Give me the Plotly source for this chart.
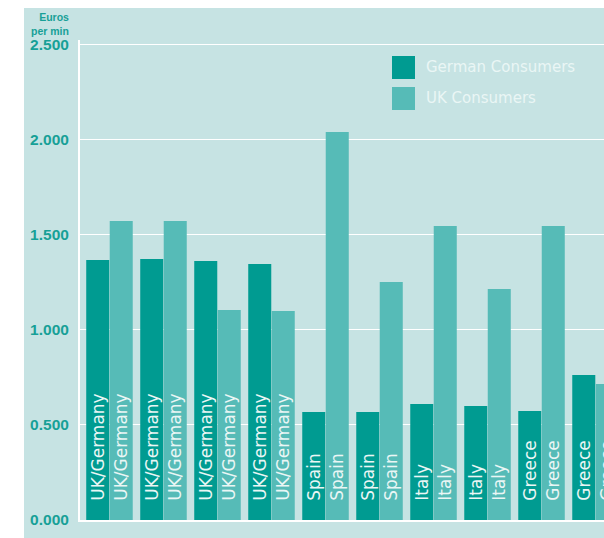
import plotly.graph_objects as go

# ---- data ----
categories = ["UK/Germany", "UK/Germany", "UK/Germany", "UK/Germany",
              "Spain", "Spain", "Italy", "Italy", "Greece", "Greece"]
german_consumers = [1.368, 1.374, 1.363, 1.347, 0.568, 0.568, 0.610, 0.600, 0.574, 0.763]
uk_consumers = [1.574, 1.574, 1.105, 1.100, 2.042, 1.253, 1.547, 1.216, 1.547, 0.716]
tick_values = [0, 0.5, 1.0, 1.5, 2.0, 2.5]
tick_labels = ["0.000", "0.500", "1.000", "1.500", "2.000", "2.500"]
series_names = ["German Consumers", "UK Consumers"]

# ---- style ----
W, H = 604, 538
ML, MR, MT, MB = 80, 0, 40, 18
BG = "#C6E3E3"
C_DE = "#009B91"
C_UK = "#56BBB7"
TICK_C = "#17A097"
LABEL_C = "#EAF6F5"

PW = W - ML - MR
PH = H - MT - MB


def px_x(p):
    return (p - ML) / PW


def px_y(p):
    return (H - MB - p) / PH


xs = list(range(len(categories)))
pad = "\u00a0\u00a0\u00a0"
texts = [pad + c for c in categories]

fig = go.Figure()
for name, vals, col in [(series_names[0], german_consumers, C_DE),
                        (series_names[1], uk_consumers, C_UK)]:
    fig.add_trace(go.Bar(
        x=xs, y=vals, name=name, marker=dict(color=col, line=dict(width=0)),
        text=texts, textposition="inside", insidetextanchor="start",
        textangle=-90, textfont=dict(family="DejaVu Sans", size=17, color=LABEL_C),
        showlegend=False, cliponaxis=True,
    ))

shapes = [
    dict(type="rect", xref="paper", yref="paper", layer="below",
         x0=px_x(24), x1=px_x(W + 5), y0=px_y(H + 5), y1=px_y(8),
         fillcolor=BG, line=dict(width=0)),
]
annotations = [
    dict(xref="paper", yref="paper", x=px_x(71), y=px_y(9), xanchor="right",
         yanchor="top", showarrow=False, align="right",
         text="Euros<br>per min",
         font=dict(family="Liberation Sans", size=10.5, color=TICK_C, weight="bold")),
]
legend_boxes = [(56, 79), (87, 110)]
for (y0, y1), name, col in zip(legend_boxes, series_names, [C_DE, C_UK]):
    shapes.append(dict(type="rect", xref="paper", yref="paper",
                       x0=px_x(392), x1=px_x(415), y0=px_y(y1), y1=px_y(y0),
                       fillcolor=col, line=dict(width=0)))
    annotations.append(dict(xref="paper", yref="paper", x=px_x(424),
                            y=px_y((y0 + y1) / 2), xanchor="left", yanchor="middle",
                            showarrow=False, text=name,
                            font=dict(family="DejaVu Sans", size=15, color=LABEL_C)))

fig.update_layout(
    width=W, height=H, autosize=False,
    margin=dict(l=ML, r=MR, t=MT, b=MB, pad=0),
    paper_bgcolor="white", plot_bgcolor="rgba(0,0,0,0)",
    barmode="group", bargap=0.13, bargroupgap=0.02,
    uniformtext=dict(minsize=17, mode="show"),
    shapes=shapes, annotations=annotations,
    xaxis=dict(range=[-0.546, 9.157], showticklabels=False, showgrid=False,
               zeroline=False, showline=True, linecolor="white", linewidth=2,
               ticks=""),
    yaxis=dict(range=[0, 2.526], tickvals=tick_values, ticktext=tick_labels,
               showgrid=True, gridcolor="white", gridwidth=1, zeroline=False,
               showline=True, linecolor="white", linewidth=2, ticks="",
               ticklabelstandoff=6,
               tickfont=dict(family="Liberation Sans", size=15.5, color=TICK_C,
                             weight="bold")),
    showlegend=False,
)

fig.write_html("out.html")
